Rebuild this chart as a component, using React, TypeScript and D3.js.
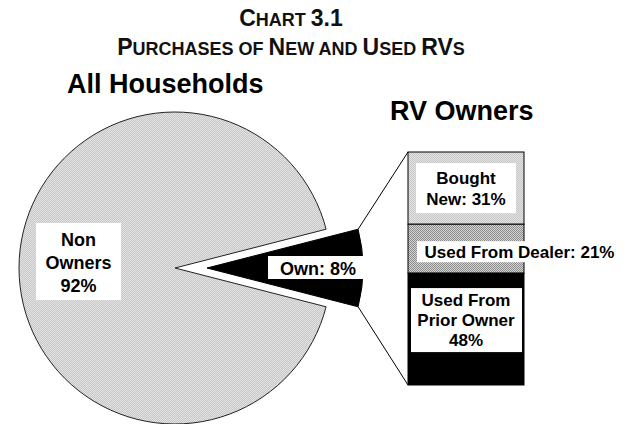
import React from 'react';
import * as d3 from 'd3';

const titleLines = ['Chart 3.1', 'Purchases of New and Used RVs'];
const pieTitle = 'All Households';
const barTitle = 'RV Owners';
const householdLabels = ['Non Owners', 'Own'];
const householdValues = [92, 8];
const ownerLabels = ['Bought New', 'Used From Dealer', 'Used From Prior Owner'];
const ownerValues = [31, 21, 48];

const FONT = '"Liberation Sans", Arial, Helvetica, sans-serif';

function smallCaps(str: string, big: number, small: number) {
  const runs: { t: string; s: number }[] = [];
  for (const ch of str) {
    const isLower = ch !== ch.toUpperCase();
    const isSpace = ch === ' ';
    const size = isLower || isSpace ? small : big;
    const t = ch.toUpperCase();
    if (runs.length && runs[runs.length - 1].s === size) runs[runs.length - 1].t += t;
    else runs.push({ t, s: size });
  }
  return runs.map((r, i) => (
    <tspan key={i} fontSize={r.s}>
      {r.t}
    </tspan>
  ));
}

export default function App() {
  const W = 631;
  const H = 424;
  const cx = 175;
  const cy = 268;
  const R = 156;
  const explode = 32;

  const total = d3.sum(householdValues);
  const ownShare = householdValues[1] / total;
  const start = Math.PI / 2 + ownShare * Math.PI;
  const pie = d3
    .pie<number>()
    .sort(null)
    .startAngle(start)
    .endAngle(start + 2 * Math.PI);
  const arcs = pie(householdValues);
  const arcGen = d3.arc<d3.PieArcDatum<number>>().innerRadius(0).outerRadius(R);
  const own = arcs[1];
  const mid = (own.startAngle + own.endAngle) / 2;
  const ox = Math.sin(mid) * explode;
  const oy = -Math.cos(mid) * explode;
  const corner = (a: number) => [cx + ox + Math.sin(a) * R, cy + oy - Math.cos(a) * R];
  const topCorner = corner(own.startAngle);
  const botCorner = corner(own.endAngle);

  // bar
  const bx0 = 408;
  const bx1 = 524;
  const y = d3.scaleLinear().domain([0, d3.sum(ownerValues)]).range([152, 385]);
  const cum = Array.from(d3.cumsum(ownerValues));
  const segs = ownerValues.map((v, i) => ({ y0: i === 0 ? 0 : cum[i - 1], y1: cum[i], v, label: ownerLabels[i] }));
  const fills = ['url(#lightDots)', 'url(#darkDots)', '#000'];

  const bmid = (i: number) => (y(segs[i].y0) + y(segs[i].y1)) / 2;
  const bcx = (bx0 + bx1) / 2;

  const boxes = [
    { x: 416, w: 100, yc: bmid(0), h: 50, lines: ['Bought', `New:  ${ownerValues[0]}%`], lh: 21 },
    { x: 417, w: 205, yc: bmid(1) + 3, h: 21, lines: [`${ownerLabels[1]}: ${ownerValues[1]}%`], lh: 20 },
    { x: 411, w: 111, yc: bmid(2) - 9, h: 64, lines: ['Used From', 'Prior Owner', `${ownerValues[2]}%`], lh: 20 },
  ];

  const ownCy = cy + oy;

  return (
    <svg
      width={W}
      height={H}
      viewBox={`0 0 ${W} ${H}`}
      style={{ position: 'absolute', left: 0, top: 0, background: '#fff' }}
      fontFamily={FONT}
      fontWeight="bold"
    >
      <defs>
        <pattern id="lightDots" width={2} height={2} patternUnits="userSpaceOnUse">
          <rect width={2} height={2} fill="#e2e2e2" />
          <rect x={0} y={0} width={1} height={1} fill="#c8c8c8" />
          <rect x={1} y={1} width={1} height={1} fill="#c8c8c8" />
        </pattern>
        <pattern id="darkDots" width={2} height={2} patternUnits="userSpaceOnUse">
          <rect width={2} height={2} fill="#d4d4d4" />
          <rect x={0} y={0} width={1} height={1} fill="#8c8c8c" />
          <rect x={1} y={1} width={1} height={1} fill="#8c8c8c" />
        </pattern>
      </defs>
      <rect width={W} height={H} fill="#fff" />

      {/* titles */}
      <text x={291} y={26} textAnchor="middle" fill="#111">
        {smallCaps(titleLines[0], 23, 18)}
      </text>
      <text x={291} y={55} textAnchor="middle" fill="#111">
        {smallCaps(titleLines[1], 23, 18)}
      </text>
      <text x={67} y={93} fontSize={27} fill="#000">
        {pieTitle}
      </text>
      <text x={390} y={120} fontSize={27} fill="#000">
        {barTitle}
      </text>

      {/* pie */}
      <g transform={`translate(${cx},${cy})`}>
        <path d={arcGen(arcs[0]) || ''} fill="url(#lightDots)" stroke="#222" strokeWidth={1} />
      </g>
      <g transform={`translate(${cx + ox},${cy + oy})`}>
        <path d={arcGen(own) || ''} fill="#000" stroke="#000" strokeWidth={1} />
      </g>

      {/* connector lines */}
      <line x1={topCorner[0]} y1={topCorner[1]} x2={bx0} y2={y(0)} stroke="#000" strokeWidth={1} />
      <line
        x1={botCorner[0]}
        y1={botCorner[1]}
        x2={bx0}
        y2={y(d3.sum(ownerValues))}
        stroke="#000"
        strokeWidth={1}
      />

      {/* bar */}
      {segs.map((s, i) => (
        <rect
          key={i}
          x={bx0}
          y={y(s.y0)}
          width={bx1 - bx0}
          height={y(s.y1) - y(s.y0)}
          fill={fills[i]}
          stroke="#000"
          strokeWidth={1}
        />
      ))}

      {/* pie labels */}
      <rect x={36} y={223} width={85} height={77} fill="#fff" />
      <text textAnchor="middle" fontSize={18} fill="#000">
        {['Non', 'Owners', `${householdValues[0]}%`].map((t, i) => (
          <tspan key={i} x={78.5} y={246 + i * 23}>
            {t}
          </tspan>
        ))}
      </text>
      <rect x={268} y={256} width={96} height={23} fill="#fff" />
      <text x={318} y={ownCy + 7} textAnchor="middle" fontSize={18} fill="#000">
        {`${householdLabels[1]}: ${householdValues[1]}%`}
      </text>

      {/* bar labels */}
      {boxes.map((b, i) => {
        const n = b.lines.length;
        const top = b.yc - b.h / 2;
        const firstBase = b.yc - ((n - 1) * b.lh) / 2 + 6;
        return (
          <g key={i}>
            <rect x={b.x} y={top} width={b.w} height={b.h} fill="#fff" />
            <text textAnchor="middle" fontSize={17} fill="#000">
              {b.lines.map((t, j) => (
                <tspan key={j} x={i === 1 ? b.x + b.w / 2 : bcx} y={firstBase + j * b.lh}>
                  {t}
                </tspan>
              ))}
            </text>
          </g>
        );
      })}
    </svg>
  );
}
